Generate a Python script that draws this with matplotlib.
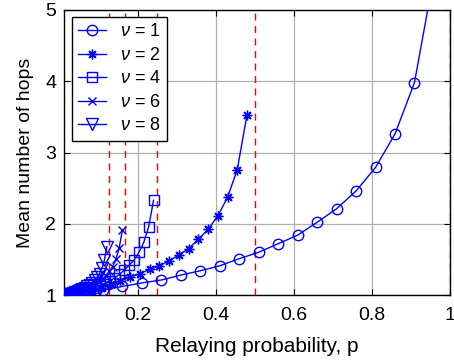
import numpy as np
import matplotlib
matplotlib.use('Agg')
from matplotlib import pyplot as plt

plt.rcParams['font.family'] = ['Liberation Sans', 'DejaVu Sans']
plt.rcParams['mathtext.fontset'] = 'custom'
plt.rcParams['mathtext.it'] = 'Liberation Sans:italic'
plt.rcParams['mathtext.rm'] = 'Liberation Sans'

# normalised load q = nu * p at which the curves were sampled
q = [0.01, 0.06, 0.11, 0.16, 0.21, 0.26, 0.31, 0.36, 0.41, 0.46,
     0.51, 0.56, 0.61, 0.66, 0.71, 0.76, 0.81, 0.86, 0.91, 0.96]

nus = [1, 2, 4, 6, 8]

hops_nu1 = [1.00, 1.03, 1.07, 1.12, 1.17, 1.21, 1.28, 1.34, 1.41, 1.51,
            1.60, 1.72, 1.84, 2.02, 2.21, 2.46, 2.79, 3.26, 3.98, 5.48]
hops_nu2 = [1.00, 1.02, 1.04, 1.07, 1.10, 1.15, 1.20, 1.25, 1.30, 1.36,
            1.41, 1.48, 1.56, 1.65, 1.78, 1.92, 2.11, 2.37, 2.76, 3.53]
hops_nu4 = [1.00, 1.01, 1.02, 1.03, 1.04, 1.06, 1.08, 1.10, 1.13, 1.16,
            1.20, 1.24, 1.29, 1.35, 1.42, 1.49, 1.60, 1.74, 1.96, 2.33]
hops_nu6 = [1.00, 1.00, 1.01, 1.02, 1.03, 1.04, 1.05, 1.07, 1.09, 1.11,
            1.13, 1.16, 1.19, 1.23, 1.27, 1.33, 1.40, 1.50, 1.66, 1.91]
hops_nu8 = [1.00, 1.00, 1.01, 1.01, 1.02, 1.03, 1.04, 1.05, 1.07, 1.08,
            1.10, 1.12, 1.14, 1.17, 1.21, 1.25, 1.30, 1.38, 1.49, 1.68]

limits = [1/8, 1/6, 1/4, 1/2, 1]

hops = [hops_nu1, hops_nu2, hops_nu4, hops_nu6, hops_nu8]
markers = ['o', (8, 2, 0), 's', 'x', 'v']
msizes = [7.5, 7, 6.5, 6, 8]

fig = plt.figure(figsize=(4.54, 3.64), dpi=100)
ax = fig.add_axes([64/454, 1 - 295/364, 385.5/454, 285/364])

for xl in limits:
  ax.axvline(xl, color='red', linestyle=(0, (5, 4)), linewidth=1.0, zorder=3)

for nu, y, m, ms in zip(nus, hops, markers, msizes):
  p = np.array(q) / nu
  ax.plot(p, y, color='blue', linewidth=1.0, marker=m, markersize=ms,
          markerfacecolor='none', markeredgecolor='blue', markeredgewidth=1.0,
          label=r'$\nu$ = %d' % nu, zorder=4)

ax.set_xlim(0.01, 1)
ax.set_ylim(1, 5)
ax.set_xticks([0.2, 0.4, 0.6, 0.8, 1])
ax.set_xticklabels(['0.2', '0.4', '0.6', '0.8', '1'])
ax.set_yticks([1, 2, 3, 4, 5])
ax.grid(True, color='#b0b0b0', linewidth=0.9, zorder=0)
ax.set_axisbelow(True)
ax.tick_params(direction='in', top=True, right=True, labelsize=14, length=4)
ax.tick_params(axis='x', pad=9)
ax.tick_params(axis='y', pad=5.5)
for s in ax.spines.values():
  s.set_linewidth(1.0)
  s.set_zorder(2)

ax.set_xlabel('Relaying probability, p', fontsize=15, labelpad=9)
ax.set_ylabel('Mean number of hops', fontsize=14, labelpad=8)

leg = ax.legend(loc='upper left', bbox_to_anchor=(0.02, 0.975), borderaxespad=0,
                fontsize=13, handlelength=1.55, labelspacing=0.36,
                fancybox=False, framealpha=1, edgecolor='black',
                borderpad=0.35, handletextpad=0.75)
leg.get_frame().set_linewidth(1.0)
leg.set_zorder(10)

fig.savefig('out.png', dpi=100)
